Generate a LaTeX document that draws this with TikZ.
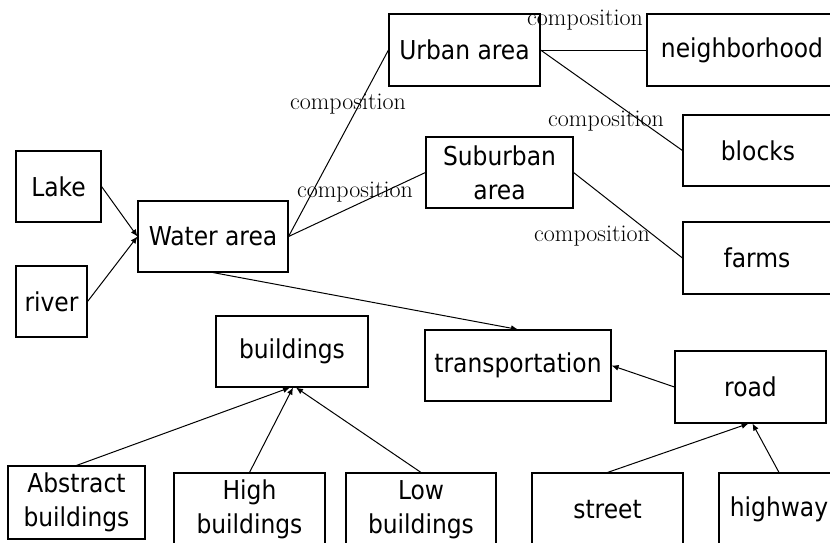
\documentclass[tikz,border=0pt]{standalone}
\usepackage{fontspec}
\setmainfont{Latin Modern Roman}
\newfontfamily\boxfont{DejaVu Sans Condensed}
\usetikzlibrary{arrows.meta}
\tikzset{
  box/.style={draw=black, line width=1.1pt, fill=white, inner sep=0pt,
    align=center, font=\boxfont\fontsize{26}{34}\selectfont},
  rel/.style={line width=1pt, draw=black},
  link/.style={rel, -{Latex[length=7pt,width=6pt]}},
  tag/.style={inner sep=0pt, font=\fontsize{24}{26}\selectfont}
}
\begin{document}
\begin{tikzpicture}[x=1pt, y=-1pt]
\useasboundingbox (0,0) rectangle (830,542);
\clip (0,0) rectangle (830,542);
% top-level categories
\node[box, minimum width=85pt,  minimum height=71pt] (lake)  at (58.5,186.5) {Lake};
\node[box, minimum width=71pt,  minimum height=71pt] (river) at (51.5,301.5) {river};
\node[box, minimum width=150pt, minimum height=71pt] (water) at (213,236.5) {Water area};
\node[box, minimum width=151pt, minimum height=72pt] (urban) at (464.5,50) {Urban area};
\node[box, minimum width=147pt, minimum height=71pt] (suburb) at (499.5,172.5) {Suburban\\area};
\node[box, minimum width=190pt, minimum height=72pt] (neigh) at (742,50) {neighborhood};
\node[box, minimum width=150pt, minimum height=71pt] (blocks) at (758,150.5) {blocks};
\node[box, minimum width=148pt, minimum height=72pt] (farms) at (757,258) {farms};
% buildings and transportation
\node[box, minimum width=152pt, minimum height=71pt] (bldg) at (292,351.5) {buildings};
\node[box, minimum width=186pt, minimum height=71pt] (trans) at (518,365.5) {transportation};
\node[box, minimum width=151pt, minimum height=72pt] (road) at (750.5,387) {road};
\node[box, minimum width=137pt, minimum height=73pt] (abs) at (76.5,502.5) {Abstract\\buildings};
\node[box, minimum width=151pt, minimum height=73pt] (high) at (249.5,509.5) {High\\buildings};
\node[box, minimum width=150pt, minimum height=73pt] (low) at (421,509.5) {Low\\buildings};
\node[box, minimum width=151pt, minimum height=73pt] (street) at (607.5,509.5) {street};
\node[box, minimum width=120pt, minimum height=73pt] (hwy) at (779,509.5) {highway};

% aggregation into water area
\draw[link] (lake.east) -- (water.west);
\draw[link] (river.east) -- (water.west);
% composition relations
\draw[rel] (water.east) -- (urban.west);
\draw[rel] (water.east) -- (suburb.west);
\draw[rel] (urban.east) -- (neigh.west);
\draw[rel] (urban.east) -- (blocks.west);
\draw[rel] (suburb.east) -- (farms.west);
\node[tag] (c1) at (348,104) {composition};
\node[tag] (c2) at (355,192) {composition};
\node[tag] (c3) at (585,20) {composition};
\node[tag] (c4) at (606,121) {composition};
\node[tag] (c5) at (592,236) {composition};
% generalisation links
\draw[link] (water.south) -- (trans.north);
\draw[link] (road.west) -- (trans.east);
\draw[link] (abs.north) -- ([xshift=-2pt]bldg.south);
\draw[link] (high.north) -- ([xshift=1pt]bldg.south);
\draw[link] (low.north) -- ([xshift=4pt]bldg.south);
\draw[link] (street.north) -- ([xshift=-2pt]road.south);
\draw[link] (hwy.north) -- ([xshift=2pt]road.south);
\end{tikzpicture}
\end{document}
